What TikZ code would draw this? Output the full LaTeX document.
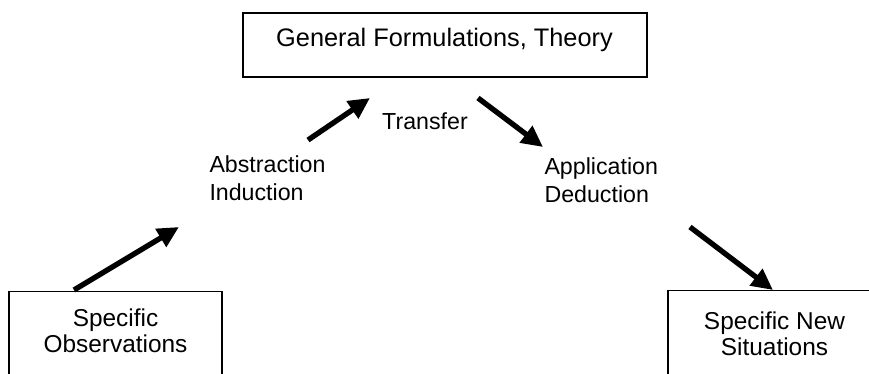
\documentclass[tikz,border=0pt]{standalone}
\usepackage{fontspec}
\setmainfont{Liberation Sans}
\usetikzlibrary{arrows.meta}

\tikzset{every picture/.style={line width=0.75pt}}
\tikzset{
  box/.style={draw, rectangle, line width=1.1pt, inner sep=0pt},
  lbl/.style={align=left, inner sep=0pt, anchor=north west, font=\fontsize{17.4}{21}\selectfont},
  boxtxt/.style={align=center, inner sep=0pt, anchor=north, font=\fontsize{18.3}{20}\selectfont},
  fat/.style={line width=4pt, -{Triangle[length=16pt,width=15pt]}}
}

\begin{document}
\begin{tikzpicture}[x=0.75pt,y=0.75pt,yscale=-1,xscale=1]
	\useasboundingbox (0,0) rectangle (869,374);
	\clip (0,0) rectangle (869,374);

	%Boxes
	\node [box, minimum width=303pt, minimum height=48pt] (theory) at (445,45) {};
	\node [box, minimum width=159.75pt, minimum height=75pt, anchor=north] (obs) at (115.5,291) {};
	\node [box, minimum width=159.75pt, minimum height=75pt, anchor=north] (sit) at (774.5,290) {};
	% Text Nodes
	\node [boxtxt, font=\fontsize{19}{21}\selectfont] (theorytxt) at (444.5,28) {General Formulations, Theory};
	\node [boxtxt] (obstxt) at (115.5,308) {Specific\\Observations};
	\node [boxtxt] (sittxt) at (774.5,311) {Specific New\\Situations};
	\node [lbl] (induct) at (209,155) {Abstraction\\Induction};
	\node [lbl] (deduct) at (544,157) {Application\\Deduction};
	\node [lbl, anchor=north] (transfer) at (425,112) {Transfer};

	%Arrow ends
	\coordinate (a1) at (74,290);
	\coordinate (a2) at (179,227);
	\coordinate (b1) at (308,140);
	\coordinate (b2) at (370,98);
	\coordinate (c1) at (478,98);
	\coordinate (c2) at (543,147);
	\coordinate (d1) at (690,227);
	\coordinate (d2) at (773,290);

	%Arrows
	\draw [fat] (a1) -- (a2);
	\draw [fat] (b1) -- (b2);
	\draw [fat] (c1) -- (c2);
	\draw [fat] (d1) -- (d2);

\end{tikzpicture}
\end{document}
